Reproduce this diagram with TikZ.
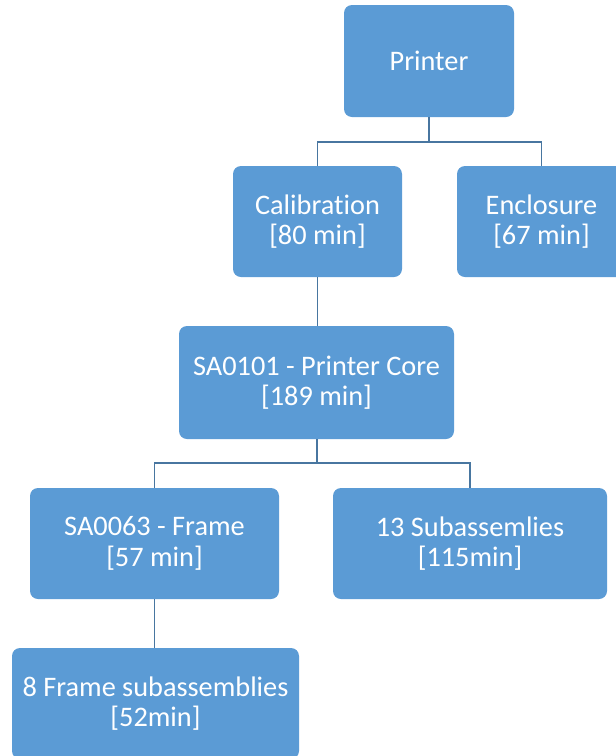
\documentclass[tikz,border=0pt]{standalone}
\usepackage{fontspec}
\setmainfont{Carlito}[Ligatures={NoCommon}]
\definecolor{boxblue}{RGB}{91,155,213}
\definecolor{linkblue}{RGB}{72,118,160}
\begin{document}
\begin{tikzpicture}[x=1pt,y=-1pt,
  box/.style={rectangle, rounded corners=8pt, fill=boxblue, draw=none,
    text=white, align=center, inner sep=0pt,
    font=\fontsize{28.3}{30.5}\selectfont},
  link/.style={draw=linkblue, line width=1.4pt}]
\useasboundingbox (0,0) rectangle (616,756);

% boxes of the assembly tree
\node[box, minimum width=170pt, minimum height=112pt] (printer) at (429,61) {Printer};
\node[box, minimum width=169pt, minimum height=111pt] (calib) at (317.5,221.5) {Calibration\\{}[80 min]};
\node[box, minimum width=169pt, minimum height=111pt] (encl) at (541.5,221.5) {Enclosure\\{}[67 min]};
\node[box, minimum width=275pt, minimum height=113pt] (core) at (316.5,382.5) {SA0101 - Printer Core\\{}[189 min]};
\node[box, minimum width=249pt, minimum height=111pt] (frame) at (154.5,543.5) {SA0063 - Frame\\{}[57 min]};
\node[box, minimum width=274pt, minimum height=111pt] (subs) at (470,543.5) {13 Subassemlies\\{}[115min]};
\node[box, minimum width=287pt, minimum height=111pt] (framesubs) at (155.5,703.5) {8 Frame subassemblies\\{}[52min]};

% connectors
\coordinate (j1) at (429,142);
\coordinate (j2) at (317,463);
\draw[link] (printer.south) -- (j1) -| (calib.north);
\draw[link] (j1) -| (encl.north);
\draw[link] (calib.south) -- (calib.south |- core.north);
\draw[link] (core.south -| j2) -- (j2) -| (frame.north);
\draw[link] (j2) -| (subs.north);
\draw[link] (frame.south) -- (frame.south |- framesubs.north);
\end{tikzpicture}
\end{document}
